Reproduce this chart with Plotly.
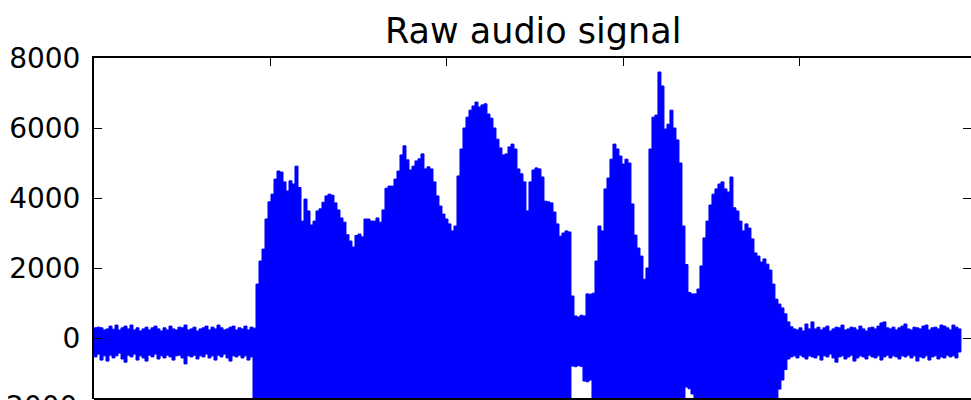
import numpy as np
import plotly.graph_objects as go

# Envelope of the raw waveform, sampled every 85 samples
STEP = 85

sig_upper = [
    290, 310, 290, 230, 260, 340, 250, 370, 230, 290,
    340, 260, 370, 230, 290, 200, 260, 310, 230, 290,
    340, 260, 200, 290, 230, 340, 260, 230, 310, 290,
    370, 230, 260, 310, 200, 260, 290, 340, 230, 310,
    260, 370, 290, 230, 260, 310, 340, 230, 290, 260,
    340, 230, 310, 280, 1540, 2200, 2540, 3400, 3890, 4110,
    4540, 4770, 4740, 4460, 4200, 4490, 4400, 4910, 4300, 3340,
    3970, 3630, 3230, 3340, 3630, 3690, 3880, 4060, 4110, 4080,
    3860, 3660, 3430, 3310, 2950, 2770, 2600, 2930, 2970, 2890,
    3400, 3400, 3340, 3340, 3430, 3310, 3660, 4280, 4340, 4340,
    4540, 4770, 5230, 5490, 5090, 4800, 4910, 5060, 5120, 5260,
    4830, 4890, 4830, 4460, 4060, 3770, 3540, 3400, 3260, 3060,
    3200, 4630, 5400, 6000, 6310, 6510, 6630, 6740, 6600, 6660,
    6690, 6400, 6280, 6000, 5680, 5430, 5230, 5260, 5460, 5540,
    5400, 4830, 4690, 4460, 3630, 4460, 4800, 4860, 4830, 4600,
    3910, 3890, 3860, 3600, 3260, 2910, 3000, 3060, 3030, 1200,
    630, 600, 650, 630, 1260, 1250, 1280, 2200, 3200, 3060,
    4260, 4570, 5110, 5540, 5400, 5200, 4970, 5110, 5000, 3830,
    2940, 2570, 2340, 1680, 2000, 5400, 6310, 6370, 7600, 7200,
    5970, 6110, 6510, 6000, 5660, 5000, 3200, 2100, 1300, 1260,
    1260, 1400, 2060, 2860, 3340, 3800, 4110, 4260, 4400, 4460,
    4260, 4170, 4600, 3720, 3630, 3340, 3060, 3260, 3140, 2830,
    2430, 2340, 2170, 2260, 2110, 1940, 1540, 1110, 970, 860,
    690, 460, 320, 260, 230, 290, 200, 400, 260, 460,
    260, 310, 230, 290, 340, 200, 260, 310, 290, 370,
    230, 260, 310, 290, 230, 340, 260, 200, 290, 310,
    260, 340, 430, 460, 290, 260, 310, 230, 290, 340,
    400, 260, 230, 310, 290, 260, 340, 370, 230, 290,
    310, 260, 370, 340, 290, 230, 370, 310, 260, 100,
]

sig_lower = [
    -490, -540, -460, -630, -510, -660, -490, -570, -510, -430,
    -600, -690, -490, -540, -460, -630, -510, -570, -660, -490,
    -540, -460, -600, -510, -570, -490, -540, -630, -510, -490,
    -570, -740, -510, -540, -490, -600, -510, -540, -460, -570,
    -510, -630, -490, -540, -460, -570, -660, -510, -540, -490,
    -570, -510, -630, -540, -3000, -3500, -4000, -4200, -4500, -4600,
    -4300, -4600, -4500, -4200, -4000, -4300, -4200, -4700, -4100, -3300,
    -3800, -3500, -3100, -3200, -3500, -3600, -3700, -3900, -4000, -3900,
    -3700, -3500, -3300, -3200, -2900, -2700, -2500, -2800, -2900, -2800,
    -3300, -3300, -3200, -3200, -3300, -3200, -3500, -4100, -4200, -4200,
    -4400, -4600, -5000, -5300, -4900, -4600, -4700, -4900, -5000, -5100,
    -4700, -4700, -4600, -4300, -3900, -3600, -3400, -3300, -3100, -2900,
    -3100, -4500, -5200, -5800, -6100, -6300, -6400, -6500, -6400, -6400,
    -6500, -6200, -6100, -5800, -5500, -5200, -5000, -5100, -5300, -5400,
    -5200, -4700, -4500, -4300, -3500, -4300, -4600, -4700, -4700, -4400,
    -3800, -3700, -3700, -3500, -3100, -2800, -2900, -2900, -2900, -2500,
    -800, -820, -790, -810, -1230, -1250, -1200, -2500, -3100, -2900,
    -4100, -4400, -4900, -5300, -5200, -5000, -4800, -4900, -4800, -3700,
    -2800, -2500, -2200, -1900, -2200, -5200, -6100, -6200, -7300, -6900,
    -5800, -5900, -6300, -5800, -5500, -4800, -3100, -2200, -1400, -1450,
    -1600, -1900, -2300, -2800, -3200, -3700, -4000, -4100, -4300, -4300,
    -4100, -4000, -4400, -3600, -3500, -3200, -3000, -3100, -3000, -2700,
    -2400, -2300, -2100, -2200, -2100, -2000, -1900, -1800, -1750, -1460,
    -1200, -900, -600, -540, -510, -570, -490, -540, -600, -510,
    -540, -570, -490, -630, -510, -540, -460, -570, -690, -540,
    -510, -600, -540, -490, -660, -570, -510, -540, -600, -490,
    -540, -570, -510, -630, -540, -490, -570, -510, -540, -600,
    -510, -540, -490, -570, -510, -660, -540, -570, -510, -630,
    -540, -510, -600, -540, -570, -490, -540, -510, -570, -400,
]

y_ticks = [0, 2000, 4000, 6000, 8000]
x_ticks = [5000, 10000, 15000, 20000]
x_range = [0, 24850]
y_range = [-1743, 8000]

t_up = list(np.arange(len(sig_upper)) * STEP)
t_lo = list(np.arange(len(sig_lower)) * STEP)

FONT = "DejaVu Sans"
BLUE = "#0000ff"

fig = go.Figure()
fig.add_trace(go.Scatter(
    x=t_up + t_lo[::-1],
    y=sig_upper + sig_lower[::-1],
    mode="lines",
    fill="toself",
    fillcolor=BLUE,
    line=dict(color=BLUE, width=1, shape="hv"),
    hoverinfo="skip",
    showlegend=False,
))

fig.update_layout(
    width=971,
    height=400,
    margin=dict(l=94, r=0, t=58, b=1),
    paper_bgcolor="white",
    plot_bgcolor="white",
    showlegend=False,
    xaxis=dict(
        range=x_range, side="top", showline=True, linecolor="black", linewidth=2,
        ticks="inside", ticklen=8, tickwidth=1, tickcolor="black",
        tickvals=x_ticks, showticklabels=False, showgrid=False, zeroline=False,
    ),
    yaxis=dict(
        range=y_range, showline=True, linecolor="black", linewidth=2,
        ticks="inside", ticklen=8, tickwidth=1, tickcolor="black",
        tickvals=y_ticks, ticktext=[str(v) for v in y_ticks],
        tickfont=dict(family=FONT, size=28, color="black"),
        ticklabelstandoff=6,
        showgrid=False, zeroline=False,
    ),
    yaxis2=dict(
        range=y_range, overlaying="y", side="right", showline=False,
        ticks="inside", ticklen=8, tickwidth=1, tickcolor="black",
        tickvals=y_ticks, showticklabels=False, showgrid=False, zeroline=False,
    ),
    shapes=[dict(type="line", xref="paper", yref="paper", x0=0, x1=1, y0=0, y1=0,
                 line=dict(color="black", width=2))],
    annotations=[
        dict(text="Raw audio signal", xref="paper", yref="paper", x=0.5, y=1,
             xanchor="center", yanchor="bottom", yshift=5, showarrow=False,
             font=dict(family=FONT, size=35, color="black")),
        # -2000 label sits just below the visible part of the axis
        dict(text="-2000", xref="paper", yref="paper", x=0, y=0,
             xanchor="right", yanchor="middle", xshift=-15, yshift=-7, showarrow=False,
             font=dict(family=FONT, size=28, color="black")),
    ],
)

# invisible companion trace so the right-hand tick axis is rendered
fig.add_trace(go.Scatter(x=[x_range[0]], y=[0], yaxis="y2", mode="markers",
                         marker=dict(opacity=0), hoverinfo="skip", showlegend=False))

fig.write_html("out.html")
